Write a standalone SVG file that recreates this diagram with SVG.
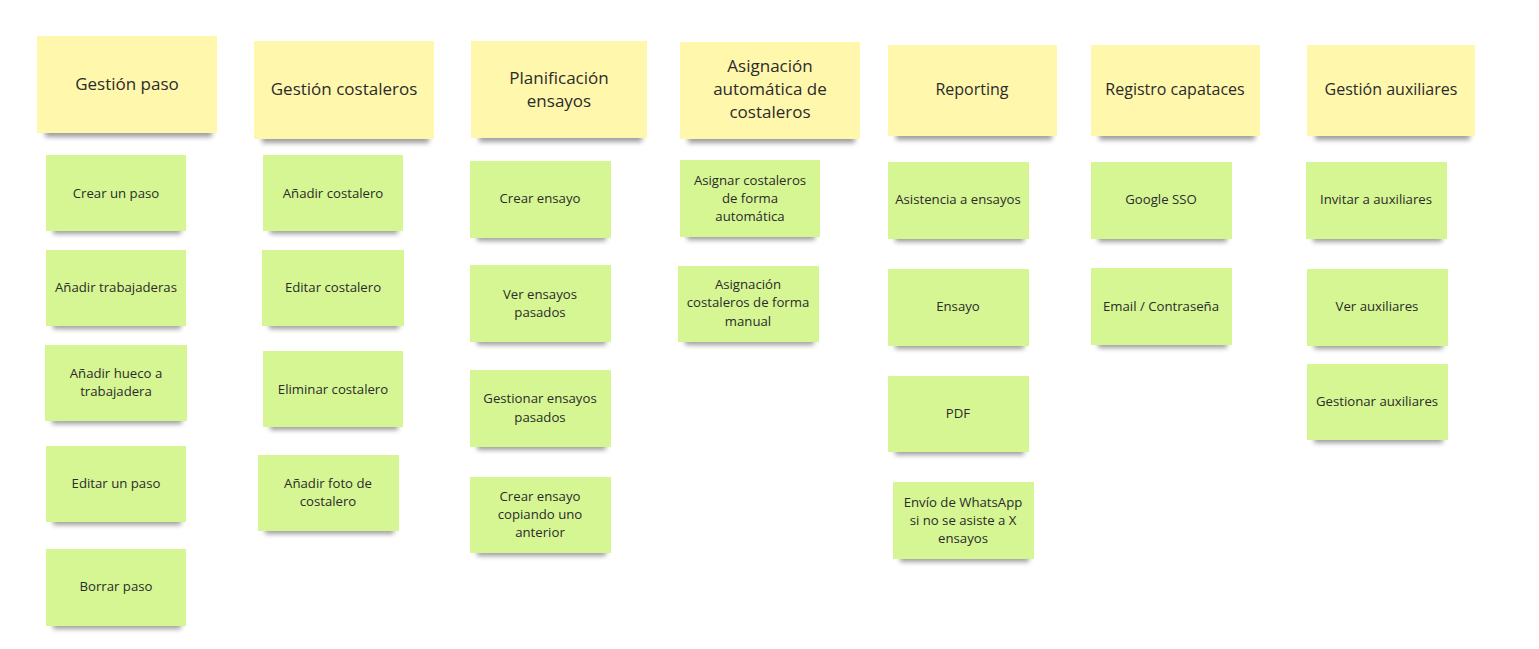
<svg xmlns="http://www.w3.org/2000/svg" width="1539" height="649" viewBox="0 0 1539 649">
<style>
.y{fill:#fff7ab}
.g{fill:#d6f693}
.s{fill:#000;opacity:0.38;filter:url(#blur)}
.ht{font-family:"Open Sans","Noto Sans",sans-serif;font-size:17px;fill:#2b2b2b;text-anchor:middle}
.hs{font-size:16px}
.gt{font-family:"Open Sans","Noto Sans",sans-serif;font-size:13.2px;fill:#2b2b2b;text-anchor:middle}
</style>
<defs>
<filter id="blur" x="-20%" y="-100%" width="140%" height="300%"><feGaussianBlur stdDeviation="2.5"/></filter>
</defs>
<rect width="1539" height="649" fill="#fff"/>
<g id="connectors"/>

<g id="h1"><rect class="s" x="45" y="125" width="167" height="12"/><rect class="y" x="37" y="36" width="180" height="97"/><text class="ht" x="127" y="90">Gestión paso</text></g>
<g id="h2"><rect class="s" x="262" y="131" width="167" height="12"/><rect class="y" x="254" y="41" width="180" height="98"/><text class="ht" x="344" y="95">Gestión costaleros</text></g>
<g id="h3"><rect class="s" x="479" y="130" width="163" height="12"/><rect class="y" x="471" y="41" width="176" height="97"/><text class="ht" x="559" y="84">Planificación</text><text class="ht" x="559" y="107">ensayos</text></g>
<g id="h4"><rect class="s" x="688" y="131" width="167" height="12"/><rect class="y" x="680" y="42" width="180" height="97"/><text class="ht" x="770" y="72">Asignación</text><text class="ht" x="770" y="95">automática de</text><text class="ht" x="770" y="118">costaleros</text></g>
<g id="h5"><rect class="s" x="896" y="128" width="156" height="12"/><rect class="y" x="888" y="45" width="169" height="91"/><text class="ht hs" x="972" y="95">Reporting</text></g>
<g id="h6"><rect class="s" x="1099" y="128" width="156" height="12"/><rect class="y" x="1091" y="45" width="169" height="91"/><text class="ht hs" x="1175" y="95">Registro capataces</text></g>
<g id="h7"><rect class="s" x="1315" y="128" width="155" height="12"/><rect class="y" x="1307" y="45" width="168" height="91"/><text class="ht hs" x="1391" y="95">Gestión auxiliares</text></g>

<g id="n1a"><rect class="s" x="53" y="223" width="128" height="11"/><rect class="g" x="46" y="155" width="140" height="76"/><text class="gt" x="116" y="198">Crear un paso</text></g>
<g id="n1b"><rect class="s" x="53" y="318" width="128" height="11"/><rect class="g" x="46" y="250" width="140" height="76"/><text class="gt" x="116" y="292">Añadir trabajaderas</text></g>
<g id="n1c"><rect class="s" x="52" y="413" width="130" height="11"/><rect class="g" x="45" y="345" width="142" height="76"/><text class="gt" x="116" y="378">Añadir hueco a</text><text class="gt" x="116" y="396">trabajadera</text></g>
<g id="n1d"><rect class="s" x="53" y="514" width="128" height="11"/><rect class="g" x="46" y="446" width="140" height="76"/><text class="gt" x="116" y="488">Editar un paso</text></g>
<g id="n1e"><rect class="s" x="53" y="618" width="128" height="11"/><rect class="g" x="46" y="549" width="140" height="77"/><text class="gt" x="116" y="591">Borrar paso</text></g>

<g id="n2a"><rect class="s" x="270" y="223" width="128" height="11"/><rect class="g" x="263" y="155" width="140" height="76"/><text class="gt" x="333" y="198">Añadir costalero</text></g>
<g id="n2b"><rect class="s" x="269" y="318" width="130" height="11"/><rect class="g" x="262" y="250" width="142" height="76"/><text class="gt" x="333" y="292">Editar costalero</text></g>
<g id="n2c"><rect class="s" x="270" y="419" width="128" height="11"/><rect class="g" x="263" y="351" width="140" height="76"/><text class="gt" x="333" y="394">Eliminar costalero</text></g>
<g id="n2d"><rect class="s" x="265" y="523" width="129" height="11"/><rect class="g" x="258" y="455" width="141" height="76"/><text class="gt" x="328" y="488">Añadir foto de</text><text class="gt" x="328" y="506">costalero</text></g>

<g id="n3a"><rect class="s" x="477" y="230" width="129" height="11"/><rect class="g" x="470" y="161" width="141" height="77"/><text class="gt" x="540" y="203">Crear ensayo</text></g>
<g id="n3b"><rect class="s" x="477" y="334" width="129" height="11"/><rect class="g" x="470" y="265" width="141" height="77"/><text class="gt" x="540" y="299">Ver ensayos</text><text class="gt" x="540" y="317">pasados</text></g>
<g id="n3c"><rect class="s" x="477" y="439" width="129" height="11"/><rect class="g" x="470" y="370" width="141" height="77"/><text class="gt" x="540" y="403">Gestionar ensayos</text><text class="gt" x="540" y="422">pasados</text></g>
<g id="n3d"><rect class="s" x="477" y="545" width="129" height="11"/><rect class="g" x="470" y="477" width="141" height="76"/><text class="gt" x="540" y="501">Crear ensayo</text><text class="gt" x="540" y="519">copiando uno</text><text class="gt" x="540" y="537">anterior</text></g>

<g id="n4a"><rect class="s" x="687" y="229" width="128" height="11"/><rect class="g" x="680" y="160" width="140" height="77"/><text class="gt" x="750" y="185">Asignar costaleros</text><text class="gt" x="750" y="203">de forma</text><text class="gt" x="750" y="221">automática</text></g>
<g id="n4b"><rect class="s" x="685" y="334" width="129" height="11"/><rect class="g" x="678" y="266" width="141" height="76"/><text class="gt" x="748" y="289">Asignación</text><text class="gt" x="748" y="307">costaleros de forma</text><text class="gt" x="748" y="326">manual</text></g>

<g id="n5a"><rect class="s" x="895" y="231" width="129" height="11"/><rect class="g" x="888" y="162" width="141" height="77"/><text class="gt" x="958" y="204">Asistencia a ensayos</text></g>
<g id="n5b"><rect class="s" x="895" y="338" width="129" height="11"/><rect class="g" x="888" y="269" width="141" height="77"/><text class="gt" x="958" y="311">Ensayo</text></g>
<g id="n5c"><rect class="s" x="895" y="444" width="129" height="11"/><rect class="g" x="888" y="376" width="141" height="76"/><text class="gt" x="958" y="418">PDF</text></g>
<g id="n5d"><rect class="s" x="900" y="551" width="129" height="11"/><rect class="g" x="893" y="482" width="141" height="77"/><text class="gt" x="963" y="507">Envío de WhatsApp</text><text class="gt" x="963" y="525">si no se asiste a X</text><text class="gt" x="963" y="543">ensayos</text></g>

<g id="n6a"><rect class="s" x="1098" y="231" width="129" height="11"/><rect class="g" x="1091" y="162" width="141" height="77"/><text class="gt" x="1161" y="204">Google SSO</text></g>
<g id="n6b"><rect class="s" x="1098" y="337" width="129" height="11"/><rect class="g" x="1091" y="268" width="141" height="77"/><text class="gt" x="1161" y="311">Email / Contraseña</text></g>

<g id="n7a"><rect class="s" x="1313" y="231" width="129" height="11"/><rect class="g" x="1306" y="162" width="141" height="77"/><text class="gt" x="1376" y="204">Invitar a auxiliares</text></g>
<g id="n7b"><rect class="s" x="1314" y="338" width="129" height="11"/><rect class="g" x="1307" y="269" width="141" height="77"/><text class="gt" x="1377" y="311">Ver auxiliares</text></g>
<g id="n7c"><rect class="s" x="1314" y="432" width="129" height="11"/><rect class="g" x="1307" y="364" width="141" height="76"/><text class="gt" x="1377" y="406">Gestionar auxiliares</text></g>
</svg>
